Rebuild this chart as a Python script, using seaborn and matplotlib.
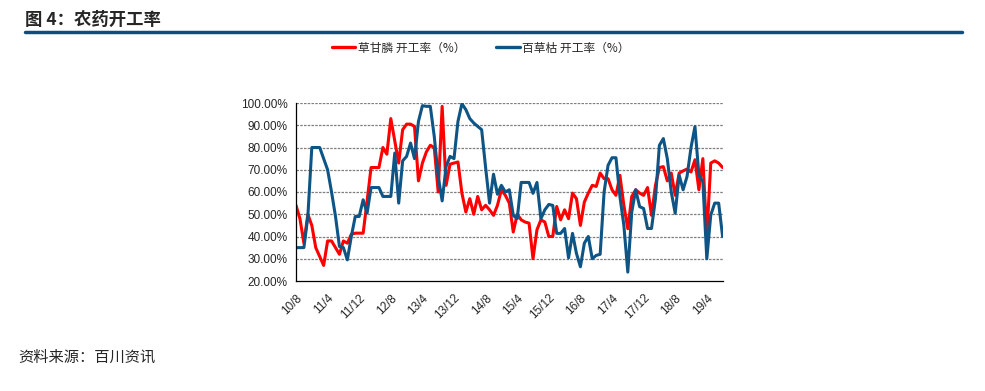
import numpy as np
import pandas as pd
import matplotlib
matplotlib.use("Agg")
import matplotlib.pyplot as plt
from matplotlib.lines import Line2D
import seaborn as sns

# --- data (monthly, 2010/8 .. 2019/8) ---
tick_labels = ["10/8", "11/4", "11/12", "12/8", "13/4", "13/12", "14/8",
               "15/4", "15/12", "16/8", "17/4", "17/12", "18/8", "19/4"]

glyphosate = [54, 48, 37, 50, 45, 35, 31, 27, 38, 38,
              35, 32, 38, 37, 41, 41.5, 41.5, 41.5, 56, 71,
              71, 71, 80, 77, 93, 83, 73, 88, 90.5, 90.5,
              89.5, 65, 73, 78, 81, 80, 60, 98.5, 63, 72.5,
              73, 73.5, 59.5, 51, 57, 50, 58, 52, 54, 52,
              49.5, 54, 61, 58.5, 55, 42, 50, 47.5, 46.5, 46,
              30, 43, 47.5, 46.5, 40, 40, 53.5, 47.5, 52, 48,
              59.5, 57, 45, 55.5, 59.5, 63, 62.5, 68.5, 66, 66,
              61, 58.5, 67.5, 54, 43.5, 58, 61, 59.5, 58.5, 62,
              49.5, 63, 71, 71.4, 65, 68.5, 58.5, 68.5, 69.5, 70.3,
              69, 74.5, 61, 75, 40, 73, 74, 73, 71]

paraquat = [35, 35, 35, 49, 80, 80, 80, 75, 70, 60,
            49, 35.5, 35, 29.5, 40, 49, 49, 56.5, 50.5, 62,
            62, 62, 58, 58, 58, 77.5, 55, 74, 76, 82,
            75, 91.7, 98.8, 98.5, 98.5, 85, 67, 56, 71.5, 76,
            75, 91.7, 99.7, 97, 93, 91, 89.5, 88, 71, 55,
            68, 59, 63, 60, 61, 49.5, 48, 64.3, 64.3, 64.3,
            59.4, 64.3, 48, 52, 54.4, 54, 41.4, 41.4, 43.6, 30.4,
            41.4, 32.4, 26.4, 37, 40, 30, 31.5, 32, 60, 72,
            75.4, 75.4, 58, 45, 24, 51, 61, 53.4, 52.6, 43.6,
            43.6, 57, 81, 84, 75, 60, 50.4, 67.6, 61, 67,
            80, 89.4, 67.6, 64.6, 30, 49.6, 55, 55, 40]

s1 = "草甘膦 开工率（%）"
s2 = "百草枯 开工率（%）"
RED = "#FF0000"
BLUE = "#0E5586"

df = pd.concat([
    pd.DataFrame({"m": np.arange(len(glyphosate)), "v": glyphosate, "s": s1}),
    pd.DataFrame({"m": np.arange(len(paraquat)), "v": paraquat, "s": s2}),
])

sns.set_theme(style="white")
cjk = ["Noto Sans CJK SC", "DejaVu Sans"]
lat = ["Liberation Sans", "DejaVu Sans"]

fig = plt.figure(figsize=(9.85, 3.91), dpi=100)
ax = fig.add_axes([296 / 985, 1 - 281 / 391, (723 - 296) / 985, (281 - 103) / 391])

sns.lineplot(data=df, x="m", y="v", hue="s", palette={s1: RED, s2: BLUE},
             linewidth=2.2, legend=False, ax=ax)

ax.set_xlim(0, 108.1)
ax.set_ylim(20, 100)
ax.set_yticks(np.arange(20, 101, 10))
ax.set_yticklabels([f"{v:.2f}%" for v in range(20, 101, 10)], fontsize=8.5, family=lat)
ax.set_xticks(np.arange(0, 8 * len(tick_labels), 8))
ax.set_xticklabels(tick_labels, fontsize=8.5, family=lat, rotation=45,
                   ha="right", rotation_mode="anchor")
ax.tick_params(axis="x", length=4, width=0.8, color="black", pad=4, direction="out")
ax.tick_params(axis="y", length=0, pad=6)
ax.set_xlabel("")
ax.set_ylabel("")

for y in range(30, 101, 10):
    ax.axhline(y, color="#7f7f7f", lw=0.9, ls=(0, (2, 1)), zorder=0)

for side in ["top", "right"]:
    ax.spines[side].set_visible(False)
for side in ["left", "bottom"]:
    ax.spines[side].set_color("black")
    ax.spines[side].set_linewidth(0.9)

# title, rule and source
fig.text(25 / 985, 1 - 20 / 391, "图 4：农药开工率", fontsize=12.5, fontweight="bold",
         family=cjk, va="center", ha="left")
fig.add_artist(Line2D([25 / 985, 962 / 985], [1 - 32 / 391, 1 - 32 / 391],
                      color="#0D4D80", lw=2.5))
fig.text(18 / 985, 1 - 357 / 391, "资料来源：百川资讯", fontsize=11, style="italic",
         family=cjk, va="center", ha="left")

handles = [Line2D([], [], color=RED, lw=2.4), Line2D([], [], color=BLUE, lw=2.4)]
fig.legend(handles, [s1, s2], loc="center", bbox_to_anchor=(0.488, 1 - 48 / 391),
           ncol=2, frameon=False, prop={"family": cjk, "size": 8.5},
           handlelength=2.0, handletextpad=0.2, columnspacing=2.6)

fig.savefig("out.png", dpi=100)
